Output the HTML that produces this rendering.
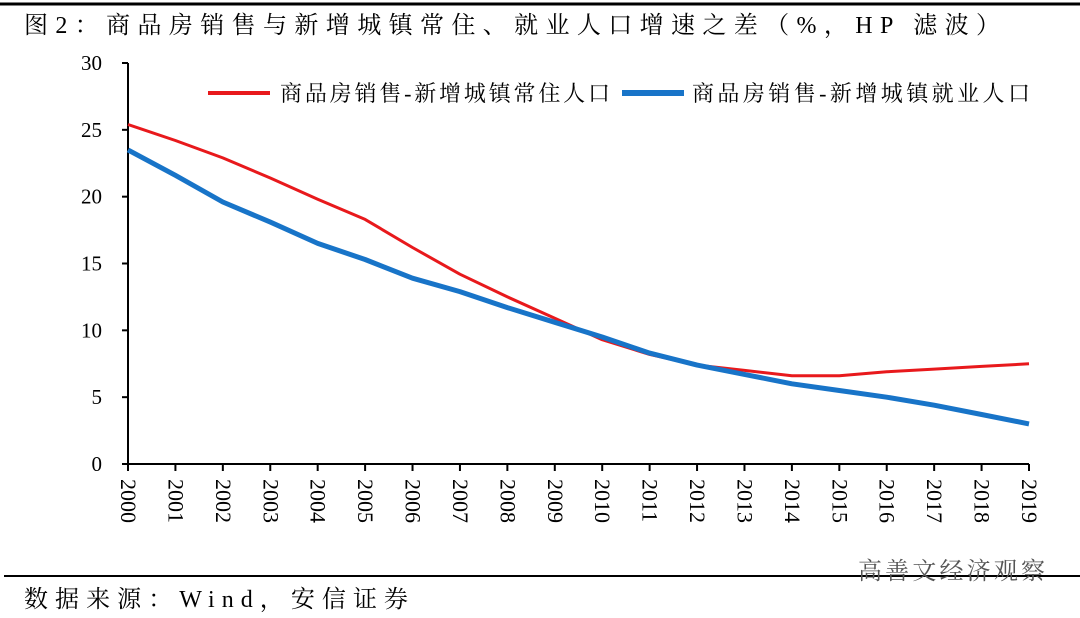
<!DOCTYPE html>
<html><head><meta charset="utf-8"><style>
body{margin:0;background:#fff;}
svg{display:block;}
text{font-family:"Liberation Serif","Noto Serif CJK SC",serif;fill:#000;}
</style></head><body>
<svg width="1080" height="618" viewBox="0 0 1080 618" xmlns="http://www.w3.org/2000/svg">
<line x1="0" y1="4" x2="1080" y2="4" stroke="#000" stroke-width="3"/>
<text x="24" y="33" font-size="24" textLength="976" lengthAdjust="spacing">图2：商品房销售与新增城镇常住、就业人口增速之差（%，HP 滤波）</text>
<g id="axes"></g>
<g id="series"></g>
<g>
<line x1="208" y1="93" x2="270" y2="93" stroke="#e8191c" stroke-width="4"/>
<text x="280" y="101" font-size="22" textLength="330" lengthAdjust="spacing">商品房销售-新增城镇常住人口</text>
<line x1="622" y1="93" x2="684" y2="93" stroke="#1874c8" stroke-width="6"/>
<text x="692" y="101" font-size="22" textLength="338" lengthAdjust="spacing">商品房销售-新增城镇就业人口</text>
</g>
<line x1="4" y1="576" x2="1080" y2="576" stroke="#000" stroke-width="2"/>
<text x="24" y="607" font-size="24" textLength="384" lengthAdjust="spacing">数据来源：Wind，安信证券</text>
<text x="858" y="579" font-size="24" textLength="187" lengthAdjust="spacing" style="fill:#555">高善文经济观察</text>
</svg>
<script>
const years=[2000,2001,2002,2003,2004,2005,2006,2007,2008,2009,2010,2011,2012,2013,2014,2015,2016,2017,2018,2019];
const residentDiff=[25.4,24.2,22.9,21.4,19.8,18.3,16.2,14.2,12.5,10.9,9.3,8.2,7.4,7.0,6.6,6.6,6.9,7.1,7.3,7.5];
const employedDiff=[23.5,21.6,19.6,18.1,16.5,15.3,13.9,12.9,11.7,10.6,9.5,8.3,7.4,6.7,6.0,5.5,5.0,4.4,3.7,3.0];
const yTicks=[0,5,10,15,20,25,30];
const NS="http://www.w3.org/2000/svg";
const x0=128,x1=1029,y0=464,y1=63;
const xs=i=>x0+(x1-x0)*i/(years.length-1);
const ys=v=>y0-(y0-y1)*v/30;
function mk(t,a,p){const e=document.createElementNS(NS,t);for(const k in a)e.setAttribute(k,a[k]);p.appendChild(e);return e;}
const ax=document.getElementById('axes');
const ya=mk('line',{x1:x0,y1:y1,x2:x0,y2:y0,stroke:'#000','stroke-width':2},ax);


const xa=mk('line',{x1:x0,y1:y0,x2:x1,y2:y0,stroke:'#000','stroke-width':2},ax);


yTicks.forEach(v=>{
  const tk=mk('line',{x1:x0-6,y1:ys(v),x2:x0,y2:ys(v),stroke:'#000','stroke-width':2},ax);
  
  
  const t=mk('text',{x:x0-26,y:ys(v)+7,'font-size':21,'text-anchor':'end'},ax);
  t.textContent=v;
  
  
});
years.forEach((yr,i)=>{
  const x=xs(i);
  const tk=mk('line',{x1:x,y1:y0,x2:x,y2:y0+7,stroke:'#000','stroke-width':2},ax);
  
  
  const t=mk('text',{x:0,y:0,'font-size':22,transform:`translate(${x-7},${y0+15}) rotate(90)`},ax);
  t.textContent=yr;
  
  
});
const sg=document.getElementById('series');
function line(vals,color,w,name){
  const d=vals.map((v,i)=>(i?'L':'M')+xs(i).toFixed(1)+' '+ys(v).toFixed(1)).join(' ');
  const p=mk('path',{d:d,fill:'none',stroke:color,'stroke-width':w,'stroke-linejoin':'round'},sg);
  
  
}
line(residentDiff,'#e8191c',3,'line-urban-resident');
line(employedDiff,'#1874c8',5,'line-urban-employed');
</script>
</body></html>
